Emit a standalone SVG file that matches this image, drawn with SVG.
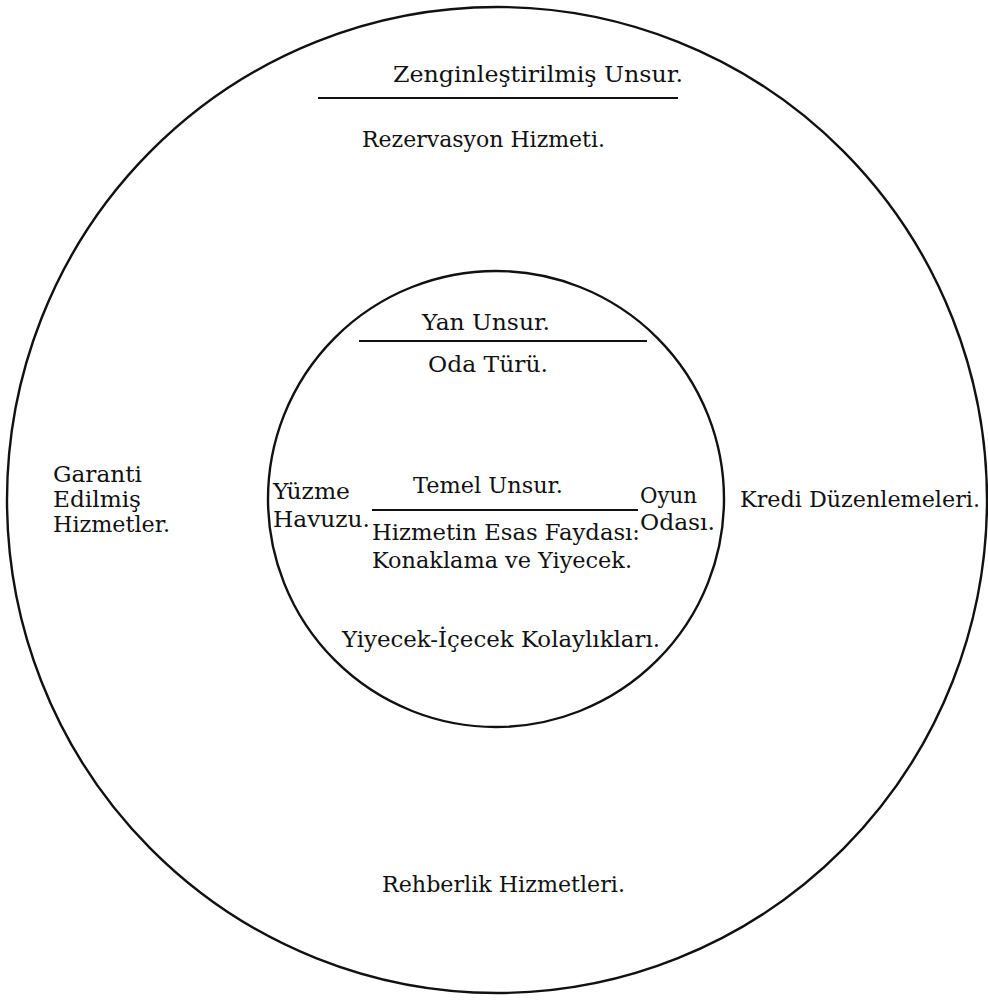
<svg xmlns="http://www.w3.org/2000/svg" width="988" height="1000" viewBox="0 0 988 1000">
  <style>
    .ring { fill: none; stroke: #111; stroke-width: 2.4; }
    .rule { stroke: #111; stroke-width: 2; }
    .lbl { font-family: "DejaVu Serif", "Liberation Serif", serif; font-size: 21.5px; fill: #111; }
  </style>
  <rect width="988" height="1000" fill="#fff"/>

  <!-- outer ring: enriched element -->
  <g id="outer-ring">
    <ellipse class="ring" cx="497" cy="500" rx="490" ry="493"/>
    <text class="lbl" x="393" y="82" textLength="290" lengthAdjust="spacingAndGlyphs">Zenginleştirilmiş Unsur.</text>
    <line class="rule" x1="318" y1="98" x2="678" y2="98"/>
    <text class="lbl" x="362" y="147" textLength="243" lengthAdjust="spacingAndGlyphs">Rezervasyon Hizmeti.</text>
    <text class="lbl" x="53" y="482" textLength="89" lengthAdjust="spacingAndGlyphs">Garanti</text>
    <text class="lbl" x="53" y="507" textLength="88" lengthAdjust="spacingAndGlyphs">Edilmiş</text>
    <text class="lbl" x="53" y="532" textLength="117" lengthAdjust="spacingAndGlyphs">Hizmetler.</text>
    <text class="lbl" x="740" y="507" textLength="240" lengthAdjust="spacingAndGlyphs">Kredi Düzenlemeleri.</text>
    <text class="lbl" x="382" y="892" textLength="243" lengthAdjust="spacingAndGlyphs">Rehberlik Hizmetleri.</text>
  </g>

  <!-- inner ring: auxiliary element -->
  <g id="inner-ring">
    <circle class="ring" cx="496" cy="499" r="228"/>
    <text class="lbl" x="422" y="330" textLength="128" lengthAdjust="spacingAndGlyphs">Yan Unsur.</text>
    <line class="rule" x1="359" y1="341" x2="647" y2="341"/>
    <text class="lbl" x="428" y="372" textLength="120" lengthAdjust="spacingAndGlyphs">Oda Türü.</text>
    <text class="lbl" x="273" y="499" textLength="77" lengthAdjust="spacingAndGlyphs">Yüzme</text>
    <text class="lbl" x="273" y="527" textLength="97" lengthAdjust="spacingAndGlyphs">Havuzu.</text>
    <text class="lbl" x="640" y="503" textLength="57" lengthAdjust="spacingAndGlyphs">Oyun</text>
    <text class="lbl" x="640" y="530" textLength="75" lengthAdjust="spacingAndGlyphs">Odası.</text>
    <text class="lbl" x="342" y="647" textLength="318" lengthAdjust="spacingAndGlyphs">Yiyecek-İçecek Kolaylıkları.</text>
  </g>

  <!-- core: basic element -->
  <g id="core">
    <text class="lbl" x="413" y="493" textLength="150" lengthAdjust="spacingAndGlyphs">Temel Unsur.</text>
    <line class="rule" x1="372" y1="510" x2="638" y2="510"/>
    <text class="lbl" x="372" y="540" textLength="268" lengthAdjust="spacingAndGlyphs">Hizmetin Esas Faydası:</text>
    <text class="lbl" x="372" y="568" textLength="260" lengthAdjust="spacingAndGlyphs">Konaklama ve Yiyecek.</text>
  </g>
</svg>
